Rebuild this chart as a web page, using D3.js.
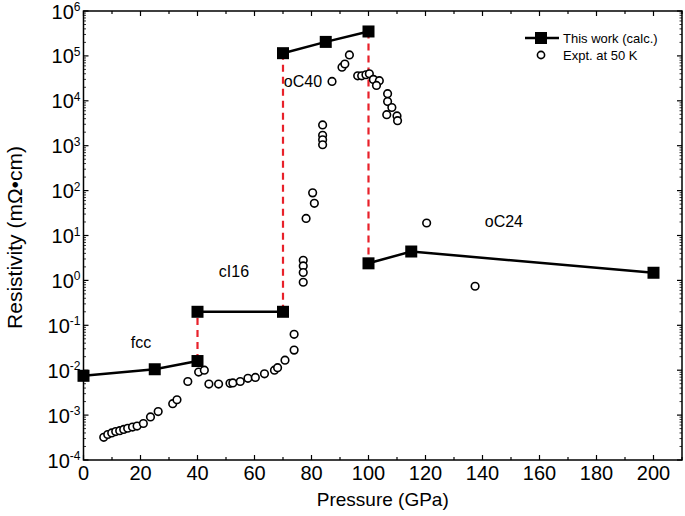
<!DOCTYPE html>
<html><head><meta charset="utf-8">
<script src="https://cdn.jsdelivr.net/npm/d3@7"></script>
<style>body{margin:0;background:#fff}svg{display:block}text{font-family:"Liberation Sans",Arial,sans-serif}</style>
</head><body>
<svg id="c" width="685" height="516"></svg>
<script>
// calculated (This work)
const calcP = [0, 25, 40, 40, 70, 70, 85, 100, 100, 115, 200];
const calcR = [7.5e-3, 1.05e-2, 1.6e-2, 0.2, 0.2, 1.15e5, 2.05e5, 3.5e5, 2.4, 4.4, 1.48];
// segments (indices into calc arrays) drawn as solid lines
const solidSegs = [[0,1,2],[3,4],[5,6,7],[8,9,10]];
// red dashed transitions
const dashSegs = [[2,3],[4,5],[7,8]];
// experimental at 50 K
const exptP = [7.1,8.5,9.9,11.3,12.7,14.1,15.5,17.2,18.8,21.0,23.5,26.2,31.3,32.8,36.6,40.4,42.4,44.0,47.4,51.4,52.4,55.0,57.7,60.3,63.5,67.0,68.1,70.7,73.9,73.9,
  77.1,77.1,77.1,77.1,78.1,80.4,81.0,83.9,83.9,83.9,83.9,87.2,90.7,91.7,93.3,96.2,97.6,99.1,100.3,101.7,103.8,102.8,106.7,106.7,108.2,106.4,110.0,110.2,120.4,137.4];
const exptR = [3.2e-4,3.7e-4,4.0e-4,4.3e-4,4.5e-4,4.8e-4,5.1e-4,5.4e-4,5.7e-4,6.5e-4,9.1e-4,1.2e-3,1.8e-3,2.2e-3,5.6e-3,9.1e-3,1.0e-2,4.9e-3,4.9e-3,5.1e-3,5.2e-3,5.6e-3,6.6e-3,6.9e-3,8.3e-3,1.0e-2,1.14e-2,1.67e-2,2.8e-2,6.3e-2,
  2.8,2.1,1.5,0.91,24,89,52,2900,1700,1350,1050,2.7e4,5.6e4,6.6e4,1.05e5,3.6e4,3.6e4,3.8e4,4.0e4,3.0e4,2.8e4,2.2e4,1.44e4,9.6e3,7.1e3,4.9e3,4.6e3,3.6e3,19,0.74];
const xTicks = [0,20,40,60,80,100,120,140,160,180,200];
const yExps = [-4,-3,-2,-1,0,1,2,3,4,5,6];
const phaseLabels = ["fcc","cI16","oC40","oC24"];
const phaseP = [20.2, 52.8, 77, 147.5];
const phaseR = [3.2e-2, 1.2, 2.0e4, 15.8];
const legendNames = ["This work (calc.)","Expt. at 50 K"];

const svg = d3.select("#c");
const L=83.5, R=682, T=11, B=460;
const x = d3.scaleLinear().domain([0,210]).range([L,R]);
const y = d3.scaleLog().domain([1e-4,1e6]).range([B,T]);

// frame
svg.append("rect").attr("x",L).attr("y",T).attr("width",R-L).attr("height",B-T)
  .attr("fill","none").attr("stroke","#000").attr("stroke-width",1.5);

// x ticks (inward) bottom and top
const xMinor = d3.range(0,211,10);
xMinor.forEach(v=>{
  const major = v%20===0;
  const len = major?5:3;
  svg.append("line").attr("x1",x(v)).attr("x2",x(v)).attr("y1",B).attr("y2",B-len).attr("stroke","#000").attr("stroke-width",1.2);
  svg.append("line").attr("x1",x(v)).attr("x2",x(v)).attr("y1",T).attr("y2",T+len).attr("stroke","#000").attr("stroke-width",1.2);
});
xTicks.forEach(v=>{
  svg.append("text").attr("x",x(v)).attr("y",480).attr("text-anchor","middle")
    .attr("font-size",20).text(v);
});
// y ticks (inward) left and right
yExps.forEach(e=>{
  const v = Math.pow(10,e);
  [[L,1],[R,-1]].forEach(([xx,s])=>{
    svg.append("line").attr("x1",xx).attr("x2",xx+s*5).attr("y1",y(v)).attr("y2",y(v)).attr("stroke","#000").attr("stroke-width",1.2);
    if(e<6) for(let m=2;m<10;m++){
      svg.append("line").attr("x1",xx).attr("x2",xx+s*2.5).attr("y1",y(m*v)).attr("y2",y(m*v)).attr("stroke","#000").attr("stroke-width",0.8);
    }
  });
  const t = svg.append("text").attr("x",L-3).attr("y",y(v)+7.5).attr("text-anchor","end").attr("font-size",20);
  t.append("tspan").text("10");
  t.append("tspan").attr("font-size",12).attr("dy",-7.5).text(e);
});

// axis titles
svg.append("text").attr("x",(L+R)/2).attr("y",506).attr("text-anchor","middle").attr("font-size",19).text("Pressure (GPa)");
svg.append("text").attr("transform",`translate(22,${(T+B)/2+2}) rotate(-90)`).attr("text-anchor","middle").attr("font-size",21).text("Resistivity (mΩ•cm)");

// dashed red
dashSegs.forEach(s=>{
  svg.append("line").attr("x1",x(calcP[s[0]])).attr("x2",x(calcP[s[1]])).attr("y1",y(calcR[s[0]])).attr("y2",y(calcR[s[1]]))
    .attr("stroke","#e8212a").attr("stroke-width",2.2).attr("stroke-dasharray","7,5");
});
// solid black lines
const line = d3.line().x(i=>x(calcP[i])).y(i=>y(calcR[i]));
solidSegs.forEach(s=>{
  svg.append("path").attr("d",line(s)).attr("fill","none").attr("stroke","#000").attr("stroke-width",2.5);
});
// expt circles
exptP.forEach((p,i)=>{
  svg.append("circle").attr("cx",x(p)).attr("cy",y(exptR[i])).attr("r",3.8)
    .attr("fill","#fff").attr("stroke","#000").attr("stroke-width",1.6);
});
// calc squares
const S=12;
calcP.forEach((p,i)=>{
  svg.append("rect").attr("x",x(p)-S/2).attr("y",y(calcR[i])-S/2).attr("width",S).attr("height",S).attr("fill","#000");
});

// phase labels
phaseLabels.forEach((t,i)=>{
  svg.append("text").attr("x",x(phaseP[i])).attr("y",y(phaseR[i])).attr("text-anchor","middle").attr("font-size",16).text(t);
});

// legend
const lg = svg.append("g");
lg.append("line").attr("x1",525).attr("x2",559).attr("y1",38).attr("y2",38).attr("stroke","#000").attr("stroke-width",2.5);
lg.append("rect").attr("x",541-6).attr("y",38-6).attr("width",12).attr("height",12).attr("fill","#000");
lg.append("circle").attr("cx",541).attr("cy",55).attr("r",3.6).attr("fill","#fff").attr("stroke","#000").attr("stroke-width",1.6);
legendNames.forEach((t,i)=>{
  lg.append("text").attr("x",563).attr("y",43+i*17).attr("font-size",13).text(t);
});
</script>
</body></html>
